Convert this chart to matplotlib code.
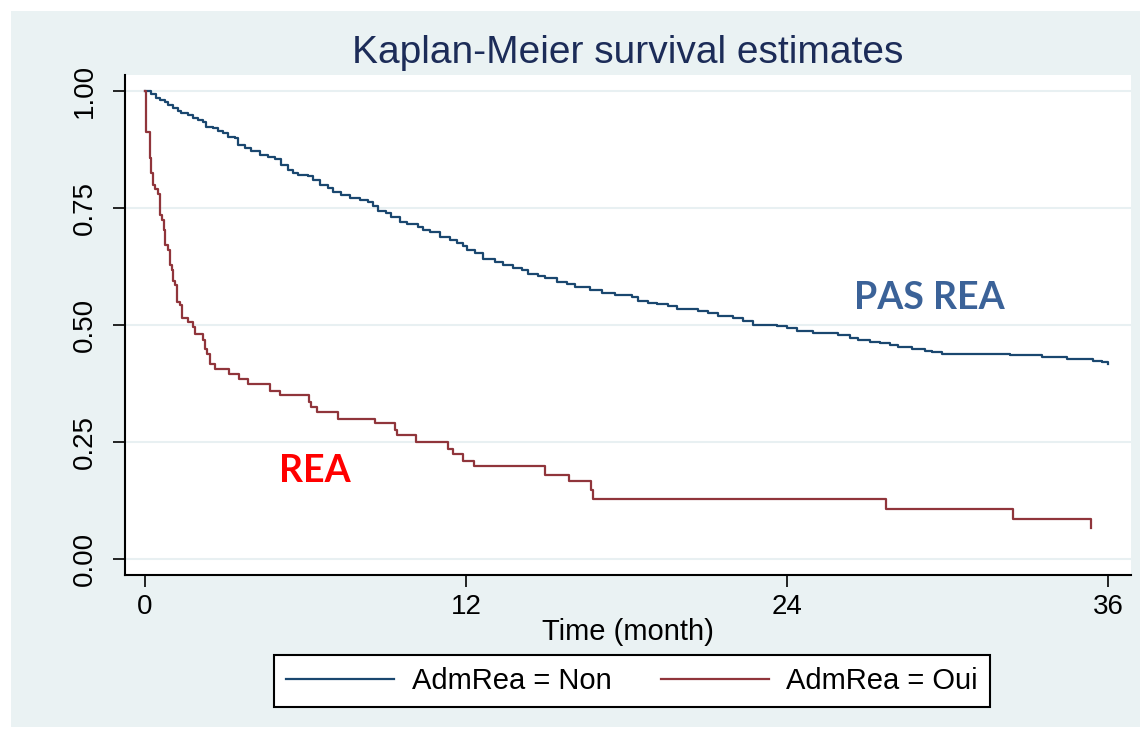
import matplotlib
matplotlib.use("Agg")
import matplotlib.pyplot as plt
from matplotlib.patches import Rectangle

# ---------------- data ----------------
time_non = [0, 0.22, 0.42, 0.55, 0.74, 0.86, 1.05, 1.23, 1.36, 1.61,
            1.79, 1.98, 2.17, 2.29, 2.54, 2.73, 2.91, 3.10, 3.35, 3.48,
            3.73, 3.97, 4.29, 4.60, 4.85, 5.09, 5.34, 5.53, 5.72, 6.09,
            6.28, 6.53, 6.84, 7.03, 7.34, 7.65, 8.02, 8.33, 8.52, 8.71,
            9.02, 9.20, 9.52, 9.78, 10.21, 10.40, 10.65, 11.02, 11.40, 11.65,
            11.89, 12.02, 12.33, 12.64, 13.08, 13.39, 13.76, 14.08, 14.32, 14.70,
            14.95, 15.38, 15.76, 16.07, 16.63, 17.07, 17.56, 18.19, 18.43, 18.81,
            19.12, 19.56, 19.87, 20.68, 21.05, 21.42, 21.98, 22.36, 22.73, 23.61,
            23.98, 24.35, 24.97, 25.91, 26.35, 26.66, 27.09, 27.47, 27.84, 28.15,
            28.65, 29.15, 29.40, 29.77, 32.32, 33.51, 34.44, 35.44, 35.75, 36.0]
surv_non = [1.0, 0.993, 0.986, 0.981, 0.976, 0.970, 0.964, 0.957, 0.954, 0.949,
            0.943, 0.938, 0.933, 0.924, 0.920, 0.915, 0.910, 0.902, 0.899, 0.885,
            0.878, 0.872, 0.863, 0.860, 0.855, 0.842, 0.831, 0.824, 0.821, 0.819,
            0.810, 0.799, 0.792, 0.784, 0.778, 0.771, 0.768, 0.763, 0.755, 0.744,
            0.739, 0.731, 0.721, 0.715, 0.710, 0.704, 0.699, 0.689, 0.682, 0.676,
            0.669, 0.660, 0.654, 0.642, 0.635, 0.628, 0.621, 0.618, 0.609, 0.605,
            0.600, 0.591, 0.588, 0.581, 0.575, 0.569, 0.564, 0.560, 0.552, 0.548,
            0.544, 0.541, 0.534, 0.530, 0.525, 0.519, 0.514, 0.509, 0.501, 0.498,
            0.493, 0.487, 0.482, 0.479, 0.473, 0.468, 0.464, 0.461, 0.457, 0.453,
            0.449, 0.444, 0.442, 0.439, 0.436, 0.431, 0.427, 0.424, 0.421, 0.416]

time_oui = [0, 0.02, 0.05, 0.18, 0.24, 0.30, 0.38, 0.49, 0.55, 0.64,
            0.71, 0.76, 0.86, 0.92, 1.01, 1.05, 1.13, 1.21, 1.30, 1.37,
            1.62, 1.78, 1.87, 2.16, 2.24, 2.33, 2.43, 2.62, 3.15, 3.52,
            3.84, 4.67, 5.06, 6.13, 6.20, 6.42, 7.21, 8.60, 9.34, 9.41,
            10.12, 11.33, 11.51, 11.88, 12.29, 14.94, 15.84, 16.68, 16.74, 27.71,
            32.43, 35.34]
surv_oui = [1.0, 0.98, 0.913, 0.857, 0.825, 0.80, 0.79, 0.78, 0.735, 0.724,
            0.703, 0.671, 0.66, 0.628, 0.617, 0.593, 0.585, 0.55, 0.543, 0.514,
            0.506, 0.496, 0.481, 0.469, 0.448, 0.438, 0.417, 0.406, 0.395, 0.384,
            0.373, 0.36, 0.35, 0.336, 0.325, 0.315, 0.30, 0.29, 0.276, 0.265,
            0.249, 0.235, 0.224, 0.209, 0.199, 0.18, 0.167, 0.147, 0.129, 0.107,
            0.086, 0.066]

x_ticks = [0, 12, 24, 36]
y_ticks = [0.0, 0.25, 0.50, 0.75, 1.0]
y_tick_labels = ["0.00", "0.25", "0.50", "0.75", "1.00"]
series_labels = ["AdmRea = Non", "AdmRea = Oui"]
title = "Kaplan-Meier survival estimates"
x_label = "Time (month)"
annot_non = "PAS REA"
annot_oui = "REA"

# ---------------- figure ----------------
plt.rcParams['font.family'] = ['Liberation Sans', 'DejaVu Sans']
W, H = 1140, 738
fig = plt.figure(figsize=(W / 100, H / 100), dpi=100)
fig.patch.set_facecolor('white')
fig.patches.append(Rectangle((11 / W, 11 / H), 1 - 11 / W, 1 - 22 / H,
                             transform=fig.transFigure, facecolor='#EAF2F3',
                             edgecolor='none', zorder=-10))

ax = fig.add_axes([125 / W, 1 - 575 / H, (1131 - 125) / W, 500 / H])
ax.set_zorder(2)
ax.set_facecolor('white')

blue = '#1a476f'
red = '#90353b'
l1, = ax.step(time_non, surv_non, where='post', color=blue, lw=1.6,
              label=series_labels[0], zorder=3)
l2, = ax.step(time_oui, surv_oui, where='post', color=red, lw=1.6,
              label=series_labels[1], zorder=4)

ax.set_xlim(-0.747, 36.85)
ax.set_ylim(-0.0342, 1.0342)
ax.set_xticks(x_ticks)
ax.set_yticks(y_ticks)
ax.set_yticklabels(y_tick_labels, rotation=90, va='center')

ax.yaxis.grid(True, color='#E8F0F2', lw=1.5)
ax.xaxis.grid(False)
ax.set_axisbelow(True)

for s in ['top', 'right']:
    ax.spines[s].set_visible(False)
for s in ['left', 'bottom']:
    ax.spines[s].set_color('black')
    ax.spines[s].set_linewidth(1.5)

ax.tick_params(axis='both', direction='out', length=8.6, width=1.2,
               colors='black', labelsize=20)
ax.tick_params(axis='x', pad=5.0)
ax.tick_params(axis='y', pad=11)

fig.text(628 / W, 1 - 63 / H, title, ha='center', va='baseline',
         fontsize=28, color='#1c2c58')
fig.text(628 / W, 1 - 640 / H, x_label, ha='center', va='baseline',
         fontsize=21, color='black')

ax.text(29.3, 0.558, annot_non, ha='center', va='center', fontsize=27,
        fontweight='bold', color='#3b6298', family=['Lato', 'DejaVu Sans'])
ax.text(6.35, 0.188, annot_oui, ha='center', va='center', fontsize=27,
        fontweight='bold', color='#ff0000', family=['Lato', 'DejaVu Sans'])

leg = fig.legend([l1, l2], series_labels, loc='center',
                 bbox_to_anchor=(632 / W, 1 - 681 / H), ncol=2, frameon=True,
                 fancybox=False, edgecolor='black', facecolor='white',
                 framealpha=1, fontsize=21, handlelength=3.7,
                 handletextpad=0.6, columnspacing=1.7, borderpad=0.4)
leg.get_frame().set_linewidth(1.5)

fig.savefig('out.png', dpi=100, facecolor=fig.get_facecolor())
